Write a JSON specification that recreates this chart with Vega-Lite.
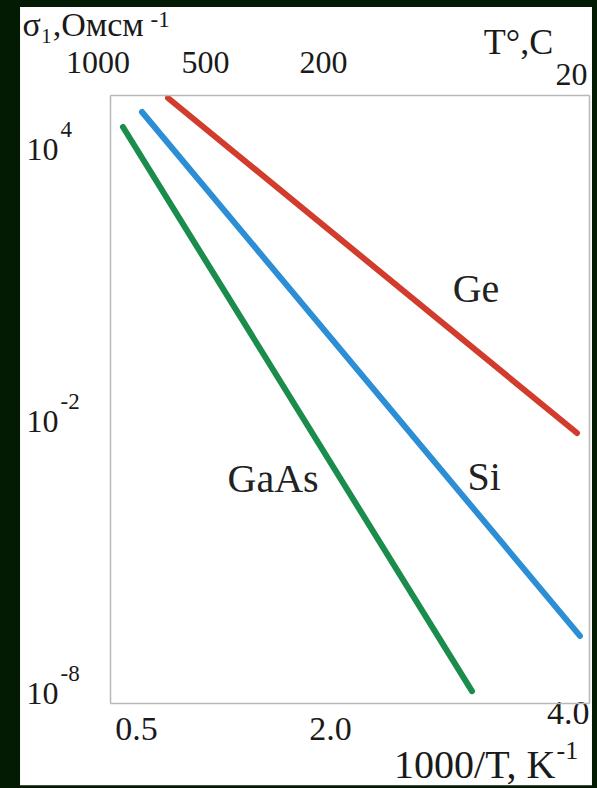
{
  "$schema": "https://vega.github.io/schema/vega-lite/v6.json",
  "autosize": {"type": "none"},
  "width": 479,
  "height": 608,
  "padding": {"left": 110, "top": 95, "right": 8, "bottom": 85},
  "background": "#031a03",
  "config": {
    "view": {"stroke": null},
    "font": "Liberation Serif",
    "axis": {
      "grid": false,
      "ticks": false,
      "domainColor": "#b8b8b8",
      "domainWidth": 1.5,
      "labelFont": "Liberation Serif",
      "labelFontSize": 32,
      "labelColor": "#1a1a1a",
      "titleFont": "Liberation Serif",
      "titleFontWeight": "normal",
      "titleColor": "#1a1a1a"
    }
  },
  "datasets": {
    "lines": [
      {"material": "Ge", "x": 0.748, "y": 5.134},
      {"material": "Ge", "x": 3.907, "y": -2.25},
      {"material": "Si", "x": 0.547, "y": 4.825},
      {"material": "Si", "x": 3.93, "y": -6.72},
      {"material": "GaAs", "x": 0.4, "y": 4.495},
      {"material": "GaAs", "x": 3.096, "y": -7.94}
    ],
    "labels": [
      {"material": "Ge", "x": 3.127, "y": 0.9},
      {"material": "Si", "x": 3.19, "y": -3.24},
      {"material": "GaAs", "x": 1.56, "y": -3.29}
    ]
  },
  "layer": [
    {
      "data": {"values": [{"panel": "background"}]},
      "mark": {"type": "rect", "color": "#ffffff"},
      "encoding": {
        "x": {
          "datum": -0.395, "type": "quantitative",
          "scale": {"domain": [0.3, 4.0], "nice": false, "zero": false},
          "axis": {
            "zindex": 2,
            "orient": "bottom",
            "domain": false,
            "labels": false,
            "title": "-1",
            "titleFontSize": 26,
            "titleAlign": "left",
            "titleBaseline": "alphabetic",
            "titleX": 446,
            "titleY": 55
          }
        },
        "x2": {"datum": 4.023},
        "y": {
          "datum": 7.14, "type": "quantitative",
          "scale": {"domain": [-8.2, 5.2], "nice": false, "zero": false},
          "axis": {
            "zindex": 2,
            "orient": "left",
            "domain": false,
            "values": [4, -2, -8],
            "labelExpr": "datum.value == 4 ? '4' : datum.value == -2 ? '-2' : '-8'",
            "labelFontSize": 23,
            "labelAlign": "left",
            "labelBaseline": "middle",
            "labelPadding": 50,
            "labelOffset": -20,
            "title": "-1",
            "titleFontSize": 23,
            "titleAngle": 0,
            "titleAlign": "left",
            "titleBaseline": "alphabetic",
            "titleX": 40,
            "titleY": -69
          }
        },
        "y2": {"datum": -10.01}
      }
    },
    {
      "data": {"name": "lines"},
      "mark": {"type": "line", "strokeWidth": 6, "strokeCap": "round"},
      "encoding": {
        "x": {
          "field": "x", "type": "quantitative",
          "scale": {"domain": [0.3, 4.0], "nice": false, "zero": false},
          "axis": {
            "zindex": 2,
            "orient": "bottom",
            "values": [0.5, 2.0, 4.0],
            "format": ".1f",
            "labelFontSize": 34,
            "labelFlush": false,
            "labelBaseline": "top",
            "labelAlign": {"condition": {"test": "datum.value > 3.5", "value": "right"}, "value": "center"},
            "labelPadding": {"condition": {"test": "datum.value > 3.5", "value": -7}, "value": 9},
            "title": "1000/T, K",
            "titleFontSize": 40,
            "titleAlign": "right",
            "titleBaseline": "alphabetic",
            "titleX": 445,
            "titleY": 74
          }
        },
        "y": {
          "field": "y", "type": "quantitative",
          "scale": {"domain": [-8.2, 5.2], "nice": false, "zero": false},
          "axis": {
            "zindex": 2,
            "orient": "left",
            "values": [4, -2, -8],
            "labelExpr": "'10'",
            "labelFontSize": 32,
            "labelPadding": 52,
            "title": "σ₁,Омсм",
            "titleFontSize": 34,
            "titleAngle": 0,
            "titleAlign": "left",
            "titleBaseline": "alphabetic",
            "titleX": -88,
            "titleY": -60
          }
        },
        "color": {
          "field": "material", "type": "nominal",
          "scale": {"domain": ["Ge", "Si", "GaAs"], "range": ["#d23c2c", "#2c8ed4", "#1a8c4c"]},
          "legend": null
        }
      }
    },
    {
      "data": {"name": "labels"},
      "mark": {"type": "text", "font": "Liberation Serif", "fontSize": 40, "color": "#222222", "align": "center", "baseline": "middle"},
      "encoding": {
        "x": {
          "field": "x", "type": "quantitative",
          "scale": {"domain": [0.3, 4.0], "nice": false, "zero": false},
          "axis": {
            "zindex": 2,
            "orient": "top",
            "values": [0.45, 1.034, 1.945, 3.86],
            "labelExpr": "datum.value < 0.6 ? '1000' : datum.value < 1.5 ? '500' : datum.value < 3 ? '200' : '20'",
            "labelFontSize": 32,
            "labelFlush": false,
            "labelAlign": {"condition": {"test": "datum.value < 0.6", "value": "right"}, "value": "center"},
            "labelPadding": {"condition": {"test": "datum.value > 3", "value": 4}, "value": 16},
            "title": "T°,C",
            "titleFontSize": 36,
            "titleAlign": "center",
            "titleBaseline": "alphabetic",
            "titleX": 408,
            "titleY": -42
          }
        },
        "y": {
          "field": "y", "type": "quantitative",
          "scale": {"domain": [-8.2, 5.2], "nice": false, "zero": false},
          "axis": {"zindex": 2, "orient": "right", "labels": false, "title": null}
        },
        "text": {"field": "material", "type": "nominal"}
      }
    }
  ],
  "resolve": {"axis": {"x": "independent", "y": "independent"}}
}
